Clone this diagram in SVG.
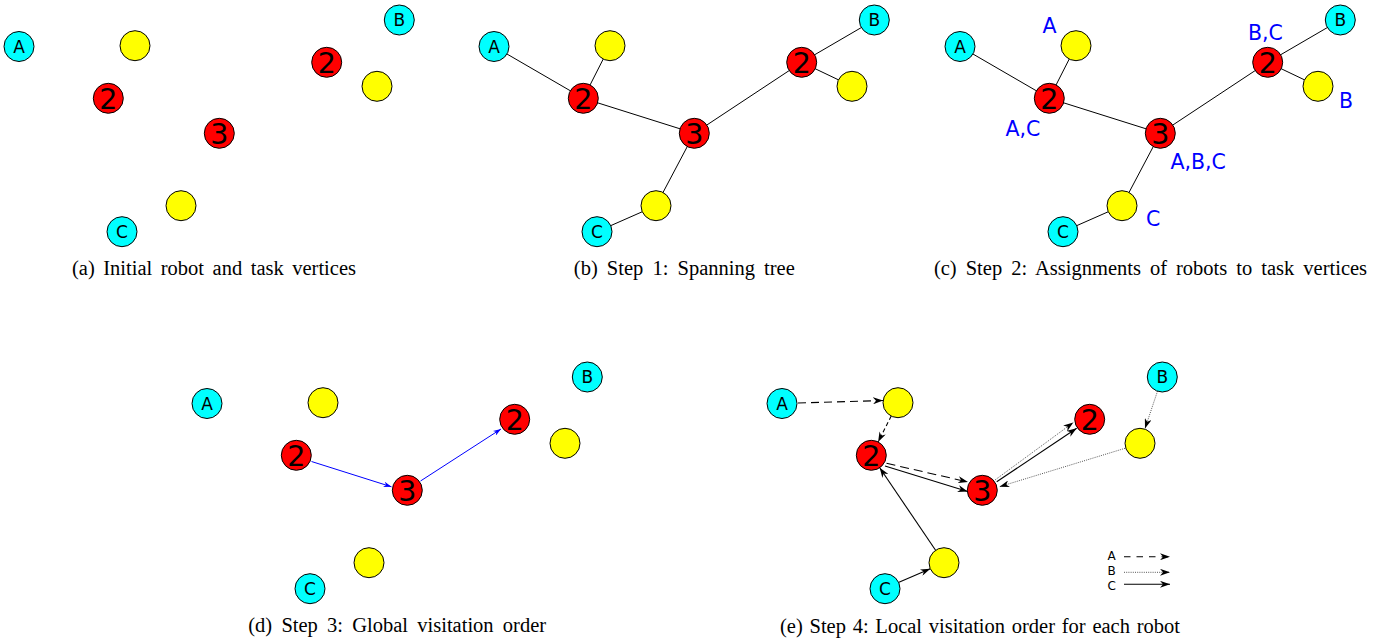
<svg xmlns="http://www.w3.org/2000/svg" width="1396" height="643" viewBox="0 0 1396 643">
<style>
.rob{fill:#00ffff;stroke:#000;stroke-width:1}
.task{fill:#ffff00;stroke:#000;stroke-width:1}
.dep{fill:#ff0000;stroke:#000;stroke-width:1}
.lt{font-family:"DejaVu Sans",sans-serif;font-size:17px;text-anchor:middle;fill:#000}
.dg{font-family:"DejaVu Sans",sans-serif;font-size:28.5px;text-anchor:middle;fill:#000}
.bl{font-family:"DejaVu Sans",sans-serif;font-size:20.5px;fill:#0000ff}
.cap{font-family:"Liberation Serif","Times New Roman",serif;font-size:20.5px;text-anchor:middle;fill:#000}
.edge{stroke:#000;stroke-width:1;fill:none}
.blue{stroke:#0000ff;stroke-width:1;fill:none;marker-end:url(#ab)}
.sol{stroke:#000;stroke-width:1.1;fill:none;marker-end:url(#ak)}
.dsh{stroke:#000;stroke-width:1.1;fill:none;marker-end:url(#ak)}
.dot{stroke:#555;stroke-width:1;stroke-dasharray:1 1.2;fill:none;marker-end:url(#ak)}
.lg{font-family:"DejaVu Sans",sans-serif;font-size:12px;fill:#000}
</style>
<defs>
<marker id="ak" viewBox="0 0 10 7" refX="10" refY="3.5" markerWidth="10" markerHeight="7" markerUnits="userSpaceOnUse" orient="auto"><path d="M0,0 L10,3.5 L0,7 L3,3.5 Z" fill="#000"/></marker>
<marker id="ab" viewBox="0 0 10 7" refX="10" refY="3.5" markerWidth="8" markerHeight="5.6" markerUnits="userSpaceOnUse" orient="auto"><path d="M0,0 L10,3.5 L0,7 L3,3.5 Z" fill="#0000ff"/></marker>
</defs>

<!-- Panel (a) -->
<g id="panel-a">
<g id="a-A"><circle class="rob" cx="19" cy="46.5" r="15"/><text class="lt" x="19" y="52.7">A</text></g>
<g id="a-Y1"><circle class="task" cx="135" cy="45.7" r="15"/></g>
<g id="a-R2a"><circle class="dep" cx="108.3" cy="98.3" r="15"/><text class="dg" x="108.3" y="108.7">2</text></g>
<g id="a-R3"><circle class="dep" cx="219.3" cy="133.3" r="15"/><text class="dg" x="219.3" y="143.7">3</text></g>
<g id="a-R2b"><circle class="dep" cx="326.7" cy="62.3" r="15"/><text class="dg" x="326.7" y="72.7">2</text></g>
<g id="a-B"><circle class="rob" cx="399.3" cy="20" r="15"/><text class="lt" x="399.3" y="26.2">B</text></g>
<g id="a-Y2"><circle class="task" cx="377" cy="86.3" r="15"/></g>
<g id="a-Y3"><circle class="task" cx="181" cy="205.7" r="15"/></g>
<g id="a-C"><circle class="rob" cx="122" cy="231.7" r="15"/><text class="lt" x="122" y="237.9">C</text></g>
</g>

<!-- Panel (b) -->
<g id="panel-b" transform="translate(475,0)">
<g id="b-edges">
<line class="edge" x1="19" y1="46.5" x2="108.3" y2="98.3"/>
<line class="edge" x1="135" y1="45.7" x2="108.3" y2="98.3"/>
<line class="edge" x1="108.3" y1="98.3" x2="219.3" y2="133.3"/>
<line class="edge" x1="219.3" y1="133.3" x2="326.7" y2="62.3"/>
<line class="edge" x1="326.7" y1="62.3" x2="399.3" y2="20"/>
<line class="edge" x1="326.7" y1="62.3" x2="377" y2="86.3"/>
<line class="edge" x1="219.3" y1="133.3" x2="181" y2="205.7"/>
<line class="edge" x1="181" y1="205.7" x2="122" y2="231.7"/>
</g>
<g id="b-A"><circle class="rob" cx="19" cy="46.5" r="15"/><text class="lt" x="19" y="52.7">A</text></g>
<g id="b-Y1"><circle class="task" cx="135" cy="45.7" r="15"/></g>
<g id="b-R2a"><circle class="dep" cx="108.3" cy="98.3" r="15"/><text class="dg" x="108.3" y="108.7">2</text></g>
<g id="b-R3"><circle class="dep" cx="219.3" cy="133.3" r="15"/><text class="dg" x="219.3" y="143.7">3</text></g>
<g id="b-R2b"><circle class="dep" cx="326.7" cy="62.3" r="15"/><text class="dg" x="326.7" y="72.7">2</text></g>
<g id="b-B"><circle class="rob" cx="399.3" cy="20" r="15"/><text class="lt" x="399.3" y="26.2">B</text></g>
<g id="b-Y2"><circle class="task" cx="377" cy="86.3" r="15"/></g>
<g id="b-Y3"><circle class="task" cx="181" cy="205.7" r="15"/></g>
<g id="b-C"><circle class="rob" cx="122" cy="231.7" r="15"/><text class="lt" x="122" y="237.9">C</text></g>
</g>

<!-- Panel (c) -->
<g id="panel-c" transform="translate(941,0)">
<g id="c-edges">
<line class="edge" x1="19" y1="46.5" x2="108.3" y2="98.3"/>
<line class="edge" x1="135" y1="45.7" x2="108.3" y2="98.3"/>
<line class="edge" x1="108.3" y1="98.3" x2="219.3" y2="133.3"/>
<line class="edge" x1="219.3" y1="133.3" x2="326.7" y2="62.3"/>
<line class="edge" x1="326.7" y1="62.3" x2="399.3" y2="20"/>
<line class="edge" x1="326.7" y1="62.3" x2="377" y2="86.3"/>
<line class="edge" x1="219.3" y1="133.3" x2="181" y2="205.7"/>
<line class="edge" x1="181" y1="205.7" x2="122" y2="231.7"/>
</g>
<g id="c-A"><circle class="rob" cx="19" cy="46.5" r="15"/><text class="lt" x="19" y="52.7">A</text></g>
<g id="c-Y1"><circle class="task" cx="135" cy="45.7" r="15"/><text class="bl" x="101.5" y="33.3">A</text></g>
<g id="c-R2a"><circle class="dep" cx="108.3" cy="98.3" r="15"/><text class="dg" x="108.3" y="108.7">2</text><text class="bl" x="64.5" y="136">A,C</text></g>
<g id="c-R3"><circle class="dep" cx="219.3" cy="133.3" r="15"/><text class="dg" x="219.3" y="143.7">3</text><text class="bl" x="229.5" y="169">A,B,C</text></g>
<g id="c-R2b"><circle class="dep" cx="326.7" cy="62.3" r="15"/><text class="dg" x="326.7" y="72.7">2</text><text class="bl" x="307" y="40">B,C</text></g>
<g id="c-B"><circle class="rob" cx="399.3" cy="20" r="15"/><text class="lt" x="399.3" y="26.2">B</text></g>
<g id="c-Y2"><circle class="task" cx="377" cy="86.3" r="15"/><text class="bl" x="398" y="108.3">B</text></g>
<g id="c-Y3"><circle class="task" cx="181" cy="205.7" r="15"/><text class="bl" x="205" y="225.7">C</text></g>
<g id="c-C"><circle class="rob" cx="122" cy="231.7" r="15"/><text class="lt" x="122" y="237.9">C</text></g>
</g>

<!-- Panel (d) -->
<g id="panel-d" transform="translate(188,357)">
<g id="d-edges">
<line class="blue" x1="123.5" y1="104.5" x2="203.5" y2="129.8"/>
<line class="blue" x1="232.5" y1="124" x2="313" y2="72"/>
</g>
<g id="d-A"><circle class="rob" cx="19" cy="46.5" r="15"/><text class="lt" x="19" y="52.7">A</text></g>
<g id="d-Y1"><circle class="task" cx="135" cy="45.7" r="15"/></g>
<g id="d-R2a"><circle class="dep" cx="108.3" cy="98.3" r="15"/><text class="dg" x="108.3" y="108.7">2</text></g>
<g id="d-R3"><circle class="dep" cx="219.3" cy="133.3" r="15"/><text class="dg" x="219.3" y="143.7">3</text></g>
<g id="d-R2b"><circle class="dep" cx="326.7" cy="62.3" r="15"/><text class="dg" x="326.7" y="72.7">2</text></g>
<g id="d-B"><circle class="rob" cx="399.3" cy="20" r="15"/><text class="lt" x="399.3" y="26.2">B</text></g>
<g id="d-Y2"><circle class="task" cx="377" cy="86.3" r="15"/></g>
<g id="d-Y3"><circle class="task" cx="181" cy="205.7" r="15"/></g>
<g id="d-C"><circle class="rob" cx="122" cy="231.7" r="15"/><text class="lt" x="122" y="237.9">C</text></g>
</g>

<!-- Panel (e) -->
<g id="panel-e" transform="translate(763,357)">
<g id="e-edges">
<line class="dsh" stroke-dasharray="8 5" x1="35" y1="46" x2="120" y2="43.5"/>
<line class="dsh" stroke-dasharray="4 3" x1="128.2" y1="59.1" x2="115.1" y2="84.9"/>
<line class="dsh" stroke-dasharray="9 5" x1="123.5" y1="106.3" x2="205" y2="125"/>
<line class="sol" x1="122" y1="109" x2="204.7" y2="134.5"/>
<line class="dot" x1="232" y1="123" x2="310.3" y2="65.5"/>
<line class="sol" x1="233.7" y1="124.7" x2="313.7" y2="71.3"/>
<line class="dot" x1="394.5" y1="34.2" x2="382" y2="71.5"/>
<line class="dot" x1="362" y1="91.3" x2="236.5" y2="129.7"/>
<line class="sol" x1="136" y1="225.2" x2="167.3" y2="211.7"/>
<line class="sol" x1="172.6" y1="193.3" x2="116.7" y2="110.7"/>
</g>
<g id="e-A"><circle class="rob" cx="19" cy="46.5" r="15"/><text class="lt" x="19" y="52.7">A</text></g>
<g id="e-Y1"><circle class="task" cx="135" cy="45.7" r="15"/></g>
<g id="e-R2a"><circle class="dep" cx="108.3" cy="98.3" r="15"/><text class="dg" x="108.3" y="108.7">2</text></g>
<g id="e-R3"><circle class="dep" cx="219.3" cy="133.3" r="15"/><text class="dg" x="219.3" y="143.7">3</text></g>
<g id="e-R2b"><circle class="dep" cx="326.7" cy="62.3" r="15"/><text class="dg" x="326.7" y="72.7">2</text></g>
<g id="e-B"><circle class="rob" cx="399.3" cy="20" r="15"/><text class="lt" x="399.3" y="26.2">B</text></g>
<g id="e-Y2"><circle class="task" cx="377" cy="86.3" r="15"/></g>
<g id="e-Y3"><circle class="task" cx="181" cy="205.7" r="15"/></g>
<g id="e-C"><circle class="rob" cx="122" cy="231.7" r="15"/><text class="lt" x="122" y="237.9">C</text></g>
</g>

<!-- Legend -->
<g id="legend">
<text class="lg" x="1107.5" y="560">A</text>
<text class="lg" x="1107.5" y="575">B</text>
<text class="lg" x="1107.5" y="589.5">C</text>
<line class="dsh" stroke-dasharray="6.5 6" x1="1124" y1="556.7" x2="1170" y2="556.7"/>
<line class="dot" x1="1124" y1="572.3" x2="1170" y2="572.3"/>
<line class="sol" x1="1124" y1="584.3" x2="1170" y2="584.3"/>
</g>

<!-- Captions -->
<g id="captions">
<text class="cap" x="214" y="275" word-spacing="3.4">(a) Initial robot and task vertices</text>
<text class="cap" x="684.3" y="275" word-spacing="4">(b) Step 1: Spanning tree</text>
<text class="cap" x="1150.5" y="275" word-spacing="3.9">(c) Step 2: Assignments of robots to task vertices</text>
<text class="cap" x="397.2" y="632" word-spacing="4.1">(d) Step 3: Global visitation order</text>
<text class="cap" x="980" y="632.5" word-spacing="1.6">(e) Step 4: Local visitation order for each robot</text>
</g>
</svg>
